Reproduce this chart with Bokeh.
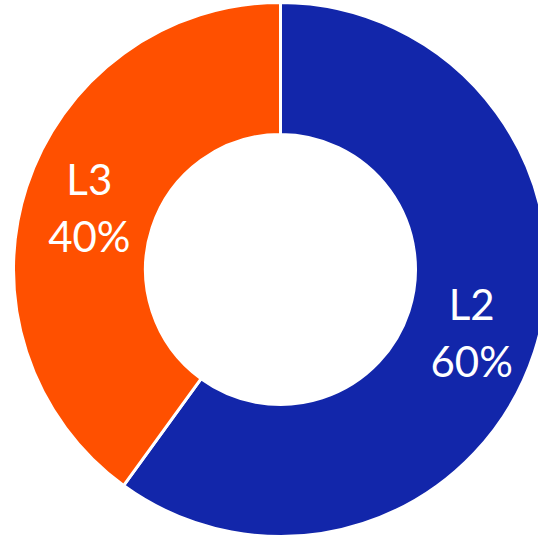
import math
from bokeh.plotting import figure
from bokeh.models import Range1d, ColumnDataSource
from bokeh.core.properties import value
from bokeh.embed import file_html
from bokeh.resources import INLINE

categories = ["L2", "L3"]
shares = [60, 40]
colors = ["#1226AA", "#FF5000"]

total = sum(shares)
starts, ends, mids = [], [], []
acc = 0.0
for s in shares:
    a0 = math.pi / 2 - 2 * math.pi * acc / total
    acc += s
    a1 = math.pi / 2 - 2 * math.pi * acc / total
    starts.append(a1)
    ends.append(a0)
    mids.append((a0 + a1) / 2)

R_in, R_out = 135, 267
r_lab = (R_in + R_out) / 2
src = ColumnDataSource(dict(
    cat=categories,
    pct=[f"{s}%" for s in shares],
    start=starts, end=ends, color=colors,
    lx=[r_lab * math.cos(m) for m in mids],
    ly=[r_lab * math.sin(m) for m in mids],
))

p = figure(width=538, height=537, output_backend="svg", toolbar_location=None,
           x_range=Range1d(-280, 258), y_range=Range1d(-268, 269),
           min_border=0)
p.axis.visible = False
p.grid.visible = False
p.outline_line_color = None
p.background_fill_color = "white"
p.border_fill_color = "white"

p.annular_wedge(x=0, y=0, inner_radius=R_in, outer_radius=R_out,
                start_angle="start", end_angle="end", color="color",
                line_color="white", line_width=3, source=src)

p.text(x="lx", y="ly", text="cat", source=src, text_color="white",
       text_font=value("Lato"), text_font_size="42px",
       text_align="center", text_baseline="middle", y_offset=-28)
p.text(x="lx", y="ly", text="pct", source=src, text_color="white",
       text_font=value("Lato"), text_font_size="42px",
       text_align="center", text_baseline="middle", y_offset=29)

open("out.html", "w").write(file_html(p, INLINE))
